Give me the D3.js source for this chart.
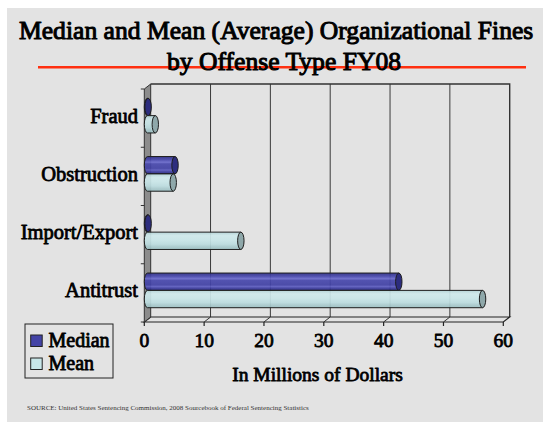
<!DOCTYPE html>
<html>
<head>
<meta charset="utf-8">
<script src="https://cdn.jsdelivr.net/npm/d3@7"></script>
<style>
  html, body { margin: 0; padding: 0; background: #ffffff; }
  svg { display: block; }
</style>
</head>
<body>
<svg id="chart" width="543" height="424"></svg>
<script>
// Organizational fines by offense type, FY08 (millions of dollars)
const categories = ["Fraud", "Obstruction", "Import/Export", "Antitrust"];
const seriesNames = ["Median", "Mean"];
const medianValues = [0.1, 4.6, 0.1, 42.0];
const meanValues = [1.3, 4.3, 15.6, 56.0];
const xTicks = [0, 10, 20, 30, 40, 50, 60];

const titleLines = ["Median and Mean (Average) Organizational Fines", "by Offense Type FY08"];
const xAxisTitle = "In Millions of Dollars";
const sourceNote = "SOURCE: United States Sentencing Commission, 2008 Sourcebook of Federal Sentencing Statistics";

const SERIF = "'Liberation Serif', 'Times New Roman', Times, serif";
const svg = d3.select("#chart");

// heavy serif text: regular face thickened with a matching stroke
function heavy(sel, size, sw) {
  return sel.style("font-family", SERIF).attr("font-size", size)
    .attr("fill", "#000").attr("stroke", "#000").attr("stroke-width", sw)
    .attr("stroke-linejoin", "round");
}

// page background panel
svg.append("rect").attr("x", 7).attr("y", 8).attr("width", 536).attr("height", 414).attr("fill", "#e3e3e3");

// title with red rule under it
svg.append("line").attr("x1", 38).attr("x2", 526).attr("y1", 67.3).attr("y2", 67.3)
  .attr("stroke", "#ff3010").attr("stroke-width", 2.6);
heavy(svg.append("text"), 25.6, 1.0).attr("x", 19).attr("y", 39).text(titleLines[0]);
heavy(svg.append("text"), 25.6, 1.0).attr("x", 284).attr("y", 69.5).attr("text-anchor", "middle").text(titleLines[1]);

// 3D plot frame: front plane and depth offset
const front = { left: 144.3, right: 503.3, top: 89, bottom: 322 };
const depth = { dx: 6.4, dy: -5 };

const x = d3.scaleLinear().domain([0, 60]).range([front.left, front.right]);
const y0 = d3.scaleBand().domain(categories).range([front.top, front.bottom]);
const y1 = d3.scaleBand().domain(seriesNames).range([0, y0.bandwidth()]).paddingOuter(0.68);

const backX = v => x(v) + depth.dx;
const backTop = front.top + depth.dy;
const backBottom = front.bottom + depth.dy;

const frame = svg.append("g");

// back wall gridlines
frame.selectAll("line.grid").data(xTicks.filter(t => t > 0 && t < 60)).join("line")
  .attr("class", "grid")
  .attr("x1", d => backX(d)).attr("x2", d => backX(d))
  .attr("y1", backTop).attr("y2", backBottom)
  .attr("stroke", "#3a3a3a").attr("stroke-width", 1);

// back wall outline (top and right edges)
frame.append("path")
  .attr("d", `M${backX(0)},${backTop} L${backX(60)},${backTop} L${backX(60)},${backBottom}`)
  .attr("fill", "none").attr("stroke", "#333").attr("stroke-width", 1.4);

// floor
frame.append("path")
  .attr("d", `M${x(0)},${front.bottom} L${backX(0)},${backBottom} L${backX(60)},${backBottom} L${x(60)},${front.bottom} Z`)
  .attr("fill", "#e3e3e3").attr("stroke", "#222").attr("stroke-width", 1.2);
frame.selectAll("line.floorgrid").data(xTicks.filter(t => t > 0 && t < 60)).join("line")
  .attr("class", "floorgrid")
  .attr("x1", d => x(d)).attr("x2", d => backX(d))
  .attr("y1", front.bottom).attr("y2", backBottom)
  .attr("stroke", "#333").attr("stroke-width", 1);

// left side wall
frame.append("path")
  .attr("d", `M${x(0)},${front.top} L${backX(0)},${backTop} L${backX(0)},${backBottom} L${x(0)},${front.bottom} Z`)
  .attr("fill", "#8c8c8c").attr("stroke", "#333").attr("stroke-width", 1);

// category ticks on the side wall
const catEdges = categories.map(c => y0(c)).concat([front.bottom]);
frame.selectAll("line.ytick").data(catEdges).join("line")
  .attr("class", "ytick")
  .attr("x1", x(0) - 3.5).attr("x2", x(0))
  .attr("y1", d => d).attr("y2", d => d)
  .attr("stroke", "#333").attr("stroke-width", 1);

// x ticks on the front floor edge
frame.selectAll("line.xtick").data(xTicks).join("line")
  .attr("class", "xtick")
  .attr("x1", d => x(d)).attr("x2", d => x(d))
  .attr("y1", front.bottom).attr("y2", front.bottom + 4)
  .attr("stroke", "#222").attr("stroke-width", 1.2);

// gradients for the cylinders
const defs = svg.append("defs");
function addGradient(id, stops) {
  const g = defs.append("linearGradient").attr("id", id)
    .attr("x1", 0).attr("y1", 0).attr("x2", 0).attr("y2", 1);
  stops.forEach(([o, c]) => g.append("stop").attr("offset", o).attr("stop-color", c));
}
addGradient("gMedian", [[0, "#2f2f86"], [0.18, "#4545aa"], [0.33, "#6b6bcc"], [0.42, "#4848ac"],
  [0.68, "#4141a4"], [0.78, "#5c5cbe"], [0.88, "#3b3b9c"], [1, "#2a2a80"]]);
addGradient("gMean", [[0, "#b3d3d6"], [0.2, "#cfe9eb"], [0.45, "#c9e6e8"], [0.7, "#bcdcdf"],
  [0.85, "#a9cacd"], [1, "#9ec1c4"]]);

const seriesStyle = {
  Median: { fill: "url(#gMedian)", cap: "#2d2d7e", values: medianValues },
  Mean: { fill: "url(#gMean)", cap: "#8fa8aa", values: meanValues }
};

// bars sit at mid-depth
const midDx = depth.dx / 2, midDy = depth.dy / 2;
const rx = 3.2;

const barData = [];
seriesNames.forEach(s => {
  seriesStyle[s].values.forEach((v, i) => barData.push({ series: s, category: categories[i], value: v }));
});

const bars = svg.append("g").selectAll("g.bar").data(barData).join("g").attr("class", "bar");

bars.each(function (d) {
  const g = d3.select(this);
  const st = seriesStyle[d.series];
  const top = y0(d.category) + y1(d.series) + midDy;
  const h = y1.bandwidth();
  const bot = top + h;
  const ry = h / 2;
  const xs = x(0) + midDx;
  const xe = x(d.value) + midDx;
  g.append("path")
    .attr("d", `M${xs},${top} L${xe},${top} L${xe},${bot} L${xs},${bot} A${rx},${ry} 0 0 1 ${xs},${top} Z`)
    .attr("fill", st.fill).attr("fill-opacity", 0.93)
    .attr("stroke", "#1e1e1e").attr("stroke-width", 1);
  g.append("ellipse")
    .attr("cx", xe).attr("cy", top + ry).attr("rx", rx).attr("ry", ry)
    .attr("fill", st.cap).attr("stroke", "#1e1e1e").attr("stroke-width", 1);
});

// category labels
heavy(svg.append("g").selectAll("text").data(categories).join("text"), 20.5, 0.8)
  .attr("x", 138).attr("y", d => y0(d) + y0.bandwidth() / 2 + 4.5)
  .attr("text-anchor", "end")
  .text(d => d);

// x tick labels
heavy(svg.append("g").selectAll("text").data(xTicks).join("text"), 19.5, 0.8)
  .attr("x", d => x(d)).attr("y", 347)
  .attr("text-anchor", "middle")
  .text(d => d);

// x axis title
heavy(svg.append("text"), 19.5, 0.8).attr("x", 317.5).attr("y", 381).attr("text-anchor", "middle")
  .text(xAxisTitle);

// legend
const legend = svg.append("g");
legend.append("rect").attr("x", 25).attr("y", 324).attr("width", 88).attr("height", 54)
  .attr("fill", "none").attr("stroke", "#222").attr("stroke-width", 1);
const legendColors = { Median: "#4343a6", Mean: "#c8e6e8" };
seriesNames.forEach((s, i) => {
  const yy = 335 + i * 23;
  legend.append("rect").attr("x", 30.7).attr("y", yy).attr("width", 11.5).attr("height", 11.5)
    .attr("fill", legendColors[s]).attr("stroke", "#222").attr("stroke-width", 1);
  heavy(legend.append("text"), 20, 0.8).attr("x", 48.5).attr("y", yy + 11.8).text(s);
});

// source note
svg.append("text").attr("x", 27).attr("y", 410)
  .style("font-family", SERIF)
  .attr("font-size", 7).attr("fill", "#333")
  .text(sourceNote);
</script>
</body>
</html>
